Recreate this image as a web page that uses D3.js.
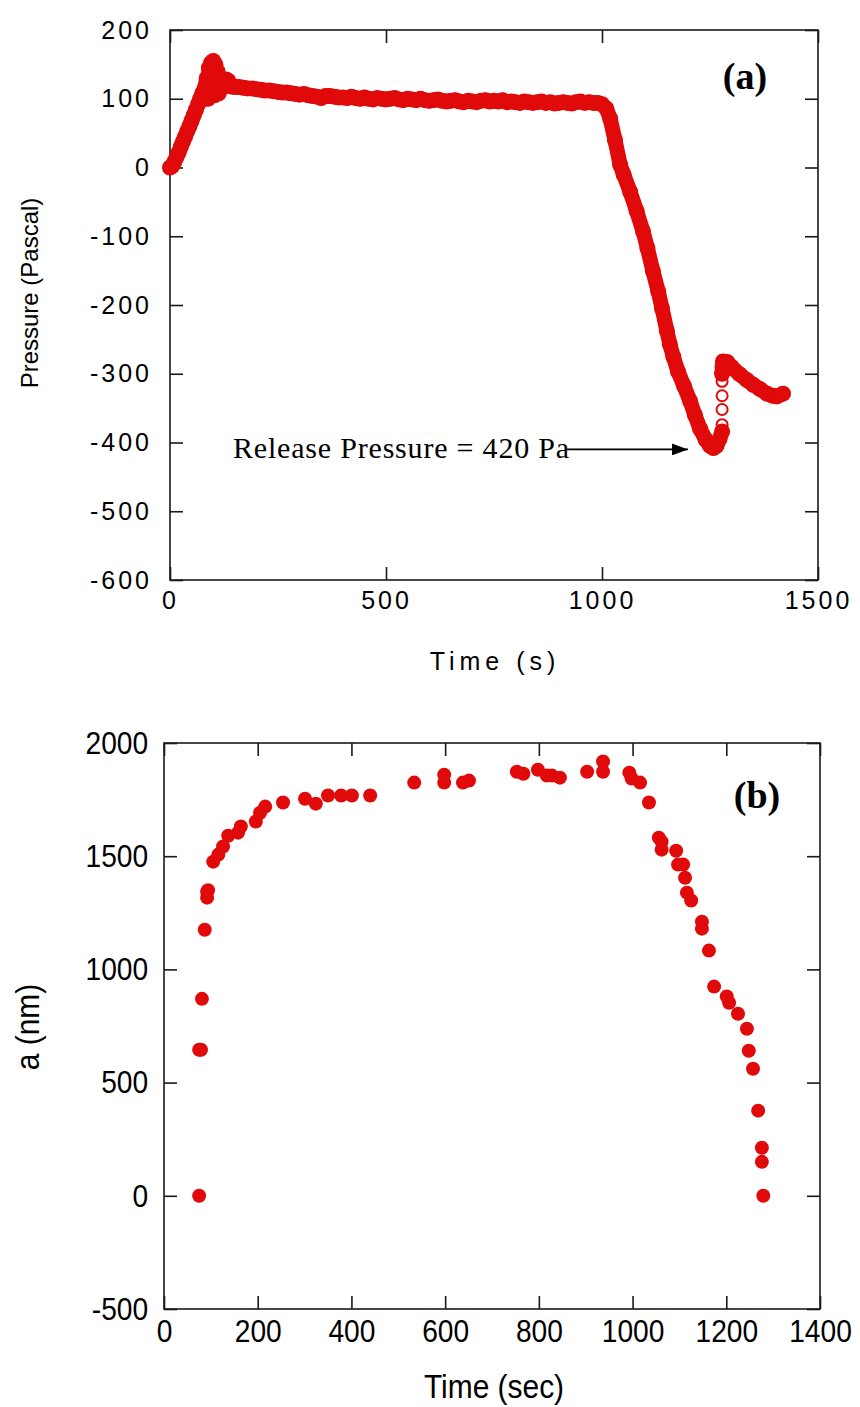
<!DOCTYPE html>
<html>
<head>
<meta charset="utf-8">
<script src="https://cdn.jsdelivr.net/npm/d3@7"></script>
<style>
  body { margin: 0; background: #fff; }
  svg { display: block; }
  .frame { fill: none; stroke: #1a1a1a; stroke-width: 1.6; }
  .tick line { stroke: #1a1a1a; stroke-width: 1.6; }
</style>
</head>
<body>
<div id="chart"></div>
<script>
// Panel (a): pressure vs time
var pTime = [0, 5, 10, 15, 20, 25, 30, 35, 40, 45, 50, 55, 60, 65, 70, 75, 80,
  85, 88, 90, 93, 95, 98, 100, 103, 105, 108, 110, 113, 115, 118, 120, 125, 130, 135, 140,
  150, 160, 170, 180, 190, 200, 210, 220, 230, 240, 250, 260, 270, 280, 290, 300,
  310, 320, 330, 340, 350, 360, 370, 380, 390, 400, 410, 420, 430, 440, 450, 460,
  470, 480, 490, 500, 510, 520, 530, 540, 550, 560, 570, 580, 590, 600, 610, 620,
  630, 640, 650, 660, 670, 680, 690, 700, 710, 720, 730, 740, 750, 760, 770, 780,
  790, 800, 810, 820, 830, 840, 850, 860, 870, 880, 890, 900, 910, 920, 930, 940,
  950, 960, 970, 980, 990, 1000, 1010, 1019, 1030, 1042, 1050, 1065, 1080, 1095,
  1105, 1118, 1130, 1139, 1150, 1157, 1165, 1176, 1190, 1204, 1215, 1227, 1240,
  1250, 1258, 1265, 1272, 1278];
var pPress = [0, 2, 8, 15, 22, 30, 38, 45, 53, 60, 68, 76, 84, 92, 100, 108, 115,
  130, 100, 145, 110, 152, 120, 155, 105, 150, 112, 140, 108, 128, 115, 122, 118, 128, 126, 118,
  117, 117, 116, 115, 115, 114, 113, 112, 112, 111, 110, 109, 109, 108, 107, 106,
  107, 105, 104, 103, 101, 104, 104, 103, 102, 102, 101, 103, 101, 100, 102, 100,
  99, 101, 100, 99, 100, 101, 99, 98, 100, 99, 98, 100, 98, 97, 98, 99,
  97, 96, 97, 98, 96, 95, 97, 96, 95, 97, 98, 96, 97, 96, 98, 95,
  96, 95, 94, 96, 95, 94, 95, 96, 94, 95, 93, 94, 95, 94, 93, 95,
  96, 94, 95, 94, 94, 92, 86, 71, 40, 4, -10, -35, -63, -93,
  -117, -151, -180, -205, -237, -257, -275, -297, -318, -340, -360, -380, -396,
  -405, -408, -405, -395, -384];
// after the release jump
var pTime2 = [1278, 1279, 1280, 1290, 1300, 1319, 1335, 1350, 1365, 1382, 1395, 1405, 1419];
var pPress2 = [-300, -290, -282, -283, -290, -301, -309, -316, -322, -329, -332, -333, -329];
// open markers during the jump
var jumpTime = [1278, 1278, 1278, 1278];
var jumpPress = [-374, -352, -332, -311];

// Panel (b): contact radius vs time
var bTime = [75, 75, 79, 81, 87, 92, 92, 94, 105, 116, 126, 137, 158, 164, 196, 205, 216,
  254, 301, 324, 350, 378, 401, 440, 534, 598, 598, 638, 651, 753, 767, 798, 817, 828,
  845, 903, 937, 937, 993, 998, 1016, 1035, 1056, 1062, 1062, 1093, 1097, 1108, 1112,
  1116, 1125, 1148, 1148, 1163, 1174, 1201, 1206, 1225, 1244, 1248, 1257, 1268, 1276,
  1276, 1279];
var bRadius = [0, 645, 645, 870, 1175, 1343, 1317, 1350, 1476, 1507, 1543, 1590, 1604,
  1631, 1653, 1692, 1719, 1737, 1754, 1732, 1768, 1768, 1768, 1768, 1825, 1860, 1825,
  1825, 1834, 1873, 1864, 1882, 1856, 1856, 1847, 1873, 1918, 1873, 1869, 1843, 1825,
  1737, 1582, 1564, 1529, 1524, 1463, 1463, 1405, 1339, 1304, 1211, 1180, 1083, 924,
  880, 853, 804, 738, 641, 561, 376, 212, 150, 0];

var topXTicks = [0, 500, 1000, 1500];
var topYTicks = [-600, -500, -400, -300, -200, -100, 0, 100, 200];
var botXTicks = [0, 200, 400, 600, 800, 1000, 1200, 1400];
var botYTicks = [-500, 0, 500, 1000, 1500, 2000];

var red = "#e00a0a";
var svgWidth = 860;
var svgHeight = 1407;

var svg = d3.select("#chart")
    .append("svg")
    .attr("width", svgWidth)
    .attr("height", svgHeight);

var plain = d => String(d);

// Draw a framed panel with inward ticks on all four sides
function drawFrame(x, y, xTicks, yTicks, opts) {
    var g = svg.append("g");
    var x0 = x.range()[0], x1 = x.range()[1];
    var y0 = y.range()[0], y1 = y.range()[1];
    var tick = 13;

    function styleText(sel) {
        sel.attr("font-family", opts.font)
            .attr("font-size", opts.size)
            .attr("letter-spacing", opts.spacing)
            .attr("transform", opts.squeeze ? `scale(${opts.squeeze}, 1)` : null)
            .attr("fill", "#000");
    }

    g.append("g")
        .attr("transform", `translate(0, ${y0})`)
        .call(d3.axisBottom(x).tickValues(xTicks).tickFormat(plain).tickSize(-tick).tickSizeOuter(0).tickPadding(opts.xPad))
        .call(function(a) { a.select(".domain").remove(); })
        .selectAll("text")
        .call(styleText);

    g.append("g")
        .attr("transform", `translate(${x0}, 0)`)
        .call(d3.axisLeft(y).tickValues(yTicks).tickFormat(plain).tickSize(-tick).tickSizeOuter(0).tickPadding(opts.yPad))
        .call(function(a) { a.select(".domain").remove(); })
        .selectAll("text")
        .call(styleText);

    g.append("g")
        .attr("transform", `translate(0, ${y1})`)
        .call(d3.axisTop(x).tickValues(xTicks).tickSize(-tick).tickSizeOuter(0).tickFormat(""))
        .call(function(a) { a.select(".domain").remove(); });

    g.append("g")
        .attr("transform", `translate(${x1}, 0)`)
        .call(d3.axisRight(y).tickValues(yTicks).tickSize(-tick).tickSizeOuter(0).tickFormat(""))
        .call(function(a) { a.select(".domain").remove(); });

    g.append("rect")
        .attr("class", "frame")
        .attr("x", x0)
        .attr("y", y1)
        .attr("width", x1 - x0)
        .attr("height", y0 - y1);
    return g;
}

// ---------- Panel (a) ----------
var xA = d3.scaleLinear().domain([0, 1500]).range([170, 818]);
var yA = d3.scaleLinear().domain([-600, 200]).range([580, 30]);

drawFrame(xA, yA, topXTicks, topYTicks, {
    font: "'Liberation Sans', Arial, sans-serif", size: 25, spacing: 3, xPad: 11, yPad: 18
});

var seriesA = pTime.map((t, i) => ({t: t, p: pPress[i]}));
var seriesA2 = pTime2.map((t, i) => ({t: t, p: pPress2[i]}));
var jumpA = jumpTime.map((t, i) => ({t: t, p: jumpPress[i]}));

var lineA = d3.line().x(d => xA(d.t)).y(d => yA(d.p));
[seriesA, seriesA2].forEach(function(s) {
    svg.append("path")
        .datum(s)
        .attr("d", lineA)
        .attr("fill", "none")
        .attr("stroke", red)
        .attr("stroke-width", 15)
        .attr("stroke-linejoin", "round")
        .attr("stroke-linecap", "round");
    svg.append("g").selectAll("circle")
        .data(s)
        .enter()
        .append("circle")
        .attr("cx", d => xA(d.t))
        .attr("cy", d => yA(d.p))
        .attr("r", 8)
        .attr("fill", red);
});

svg.append("g").selectAll("circle")
    .data(jumpA)
    .enter()
    .append("circle")
    .attr("cx", d => xA(d.t))
    .attr("cy", d => yA(d.p))
    .attr("r", 5.5)
    .attr("fill", "none")
    .attr("stroke", red)
    .attr("stroke-width", 2);

// annotation
svg.append("text")
    .attr("x", xA(146))
    .attr("y", yA(-423))
    .attr("font-family", "'Liberation Serif', 'Times New Roman', serif")
    .attr("font-size", 30)
    .attr("letter-spacing", 0.8)
    .text("Release Pressure = 420 Pa");

svg.append("defs").append("marker")
    .attr("id", "arrow")
    .attr("viewBox", "0 0 16 12")
    .attr("refX", 16)
    .attr("refY", 6)
    .attr("markerWidth", 16)
    .attr("markerHeight", 12)
    .attr("markerUnits", "userSpaceOnUse")
    .attr("orient", "auto")
    .append("path")
    .attr("d", "M0,0 L16,6 L0,12 Z")
    .attr("fill", "#000");

svg.append("line")
    .attr("x1", 567)
    .attr("x2", xA(1199))
    .attr("y1", yA(-410))
    .attr("y2", yA(-410))
    .attr("stroke", "#000")
    .attr("stroke-width", 1.6)
    .attr("marker-end", "url(#arrow)");

svg.append("text")
    .attr("x", 745)
    .attr("y", 89)
    .attr("text-anchor", "middle")
    .attr("font-family", "'Liberation Serif', 'Times New Roman', serif")
    .attr("font-weight", "bold")
    .attr("font-size", 38)
    .text("(a)");

svg.append("text")
    .attr("x", 495)
    .attr("y", 670)
    .attr("text-anchor", "middle")
    .attr("font-family", "'Liberation Sans', Arial, sans-serif")
    .attr("font-size", 25)
    .attr("letter-spacing", 5)
    .text("Time (s)");

svg.append("text")
    .attr("transform", "translate(38, 293) rotate(-90)")
    .attr("text-anchor", "middle")
    .attr("font-family", "'Liberation Sans', Arial, sans-serif")
    .attr("font-size", 24)
    .text("Pressure (Pascal)");

// ---------- Panel (b) ----------
var xB = d3.scaleLinear().domain([0, 1400]).range([164, 820]);
var yB = d3.scaleLinear().domain([-500, 2000]).range([1309, 743]);

drawFrame(xB, yB, botXTicks, botYTicks, {
    font: "'Liberation Sans', Arial, sans-serif", size: 32, spacing: 0, xPad: 10, yPad: 18, squeeze: 0.88
});

svg.append("g").selectAll("circle")
    .data(bTime.map((t, i) => ({t: t, a: bRadius[i]})))
    .enter()
    .append("circle")
    .attr("cx", d => xB(d.t))
    .attr("cy", d => yB(d.a))
    .attr("r", 7)
    .attr("fill", red);

svg.append("text")
    .attr("x", 757)
    .attr("y", 808)
    .attr("text-anchor", "middle")
    .attr("font-family", "'Liberation Serif', 'Times New Roman', serif")
    .attr("font-weight", "bold")
    .attr("font-size", 38)
    .text("(b)");

svg.append("text")
    .attr("transform", "translate(494, 1398) scale(0.88, 1)")
    .attr("text-anchor", "middle")
    .attr("font-family", "'Liberation Sans', Arial, sans-serif")
    .attr("font-size", 34)
    .text("Time (sec)");

svg.append("text")
    .attr("transform", "translate(39, 1027) rotate(-90) scale(0.88, 1)")
    .attr("text-anchor", "middle")
    .attr("font-family", "'Liberation Sans', Arial, sans-serif")
    .attr("font-size", 34)
    .text("a (nm)");
</script>
</body>
</html>
